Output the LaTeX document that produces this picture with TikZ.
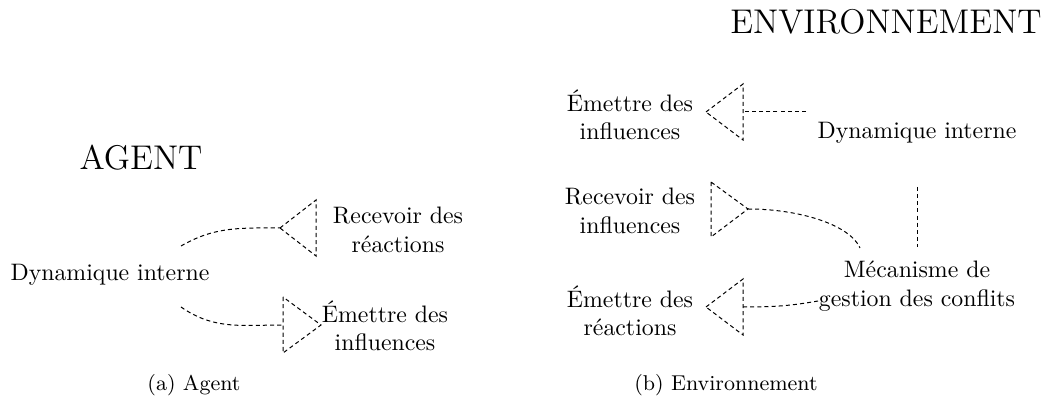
\documentclass[tikz,border=0pt]{standalone}
\begin{document}
\begin{tikzpicture}[x=0.42pt,y=-0.42pt,
  lbl/.style={inner sep=0pt,align=center,font=\normalsize},
  title/.style={inner sep=0pt,font=\Large},
  capt/.style={inner sep=0pt,font=\small},
  link/.style={densely dashed,dash pattern=on 1.7pt off 1.3pt,line width=0.42pt},
  tri/.style={link,line join=miter}]
\useasboundingbox (0,0) rectangle (1051,405);

% ---------- (a) Agent ----------
\node[title] (agent) at (141,158) {AGENT};
\node[lbl] (dynA) at (110,275) {Dynamique interne};
\node[lbl] (recA) at (398,230) {Recevoir des\\réactions};
\node[lbl] (emA) at (385,326) {Émettre des\\influences};
\node[capt] (capA) at (194,385) {(a) Agent};

% receiving triangle, apex pointing left
\coordinate (tRA) at (280,228);
\draw[tri] (tRA) -- (316,200) -- (316,256) -- cycle;
% emitting triangle, apex pointing right
\coordinate (tEA) at (283,325);
\draw[tri] (283,297) -- (283,353) -- (321,325) -- cycle;

\coordinate (dAt) at (181,246);
\coordinate (dAb) at (181,307);
\draw[link] (dAt) to[out=30,in=180] (tRA);
\draw[link] (dAb) to[out=-35,in=180] (tEA);

% ---------- (b) Environnement ----------
\node[title] (env) at (886,22) {ENVIRONNEMENT};
\node[lbl] (emI) at (630,115) {Émettre des\\influences};
\node[lbl] (recI) at (630,211) {Recevoir des\\influences};
\node[lbl] (emR) at (630,311) {Émettre des\\réactions};
\node[lbl] (dynE) at (917,133) {Dynamique interne};
\node[lbl] (meca) at (917,286) {Mécanisme de\\gestion des conflits};
\node[capt] (capB) at (726,385) {(b) Environnement};

% triangles
\coordinate (tEI) at (743,112);
\draw[tri] (706,112) -- (743,84) -- (743,140) -- cycle;
\coordinate (tRI) at (748,209);
\draw[tri] (711,182) -- (711,237) -- (748,209) -- cycle;
\coordinate (tER) at (743,307);
\draw[tri] (706,307) -- (743,279) -- (743,335) -- cycle;

% connectors
\coordinate (dEl) at (806,112);
\coordinate (dEb) at (917,187);
\coordinate (mT) at (917,247);
\coordinate (mTl) at (860,248);
\coordinate (mL) at (818,301);
\draw[link] (dEl) -- (tEI);
\draw[link] (dEb) -- (mT);
\draw[link] (tRI) .. controls (800,209) and (850,225) .. (mTl);
\draw[link] (tER) to[out=0,in=190] (mL);
\end{tikzpicture}
\end{document}
